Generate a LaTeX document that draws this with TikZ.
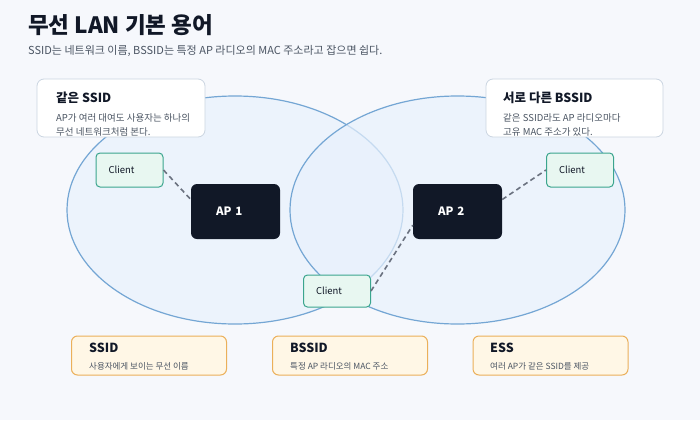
\documentclass[tikz,border=0pt]{standalone}
\usepackage{fontspec}
\setmainfont{Noto Sans CJK KR}
\usepackage{tikz}
\definecolor{bgc}{HTML}{F6F8FC}
\definecolor{ink}{HTML}{111827}
\definecolor{subink}{HTML}{4B5563}
\definecolor{setfill}{HTML}{E8F1FC}
\definecolor{setline}{HTML}{74A6D4}
\definecolor{cardline}{HTML}{CBD5E1}
\definecolor{clifill}{HTML}{E8F7F1}
\definecolor{cliline}{HTML}{3BA58E}
\definecolor{termfill}{HTML}{FFF7E6}
\definecolor{termline}{HTML}{EBB05A}
\definecolor{linkc}{HTML}{6B7280}

\begin{document}
\begin{tikzpicture}[x=1pt,y=1pt,yscale=-1,xscale=1,
  card/.style={draw=cardline,fill=white,line width=0.8pt,rounded corners=7pt},
  client/.style={draw=cliline,fill=clifill,line width=1pt,rounded corners=4pt,minimum width=67pt,minimum height=34pt,inner xsep=12.5pt,text width=42pt,align=left,font=\fontsize{9.5}{11}\selectfont,text=ink},
  apbox/.style={fill=ink,rounded corners=6pt,minimum width=89pt,minimum height=55pt,inner xsep=25pt,text width=39pt,align=left,font=\fontsize{11.5}{13}\selectfont\bfseries,text=white},
  term/.style={draw=termline,fill=termfill,line width=1pt,rounded corners=6pt,minimum width=155pt,minimum height=39pt},
  head/.style={anchor=west,inner sep=0pt,font=\fontsize{12.5}{14}\selectfont\bfseries,text=ink},
  body/.style={anchor=west,inner sep=0pt,align=left,font=\fontsize{9.5}{14}\selectfont,text=subink},
  small/.style={anchor=west,inner sep=0pt,font=\fontsize{8.5}{10}\selectfont,text=subink},
  link/.style={draw=linkc,line width=1.6pt,dash pattern=on 5pt off 3.5pt}]
%배경
\fill [bgc](0,0) rectangle (700,420);
\useasboundingbox (0,0) rectangle (700,420);
%제목
\node [anchor=west,inner sep=0pt,font=\fontsize{22.5}{26}\selectfont\bfseries,text=ink] (title) at (28,25) {무선 LAN 기본 용어};
\node [anchor=west,inner sep=0pt,font=\fontsize{11}{13}\selectfont,text=subink] (subtitle) at (28,51) {SSID는 네트워크 이름, BSSID는 특정 AP 라디오의 MAC 주소라고 잡으면 쉽다.};
%두 AP의 영역
\draw [setline,fill=setfill,fill opacity=0.7,line width=1.2pt](235,210) ellipse (168 and 114);
\draw [setline,fill=setfill,fill opacity=0.7,line width=1.2pt](457.5,210) ellipse (167.5 and 114);
%설명 카드
\node [card,minimum width=168pt,minimum height=58pt] (same) at (121,108) {};
\node [head] (sameT) at (56,98) {같은 SSID};
\node [body] (sameD) at (56,125) {AP가 여러 대여도 사용자는 하나의\\무선 네트워크처럼 본다.};
\node [card,minimum width=177pt,minimum height=58pt] (diff) at (574.5,108) {};
\node [head] (diffT) at (503,98) {서로 다른 BSSID};
\node [body] (diffD) at (503,125) {같은 SSID라도 AP 라디오마다\\고유 MAC 주소가 있다.};
%AP와 단말
\node [apbox] (ap1) at (235.5,211.5) {AP 1};
\node [apbox] (ap2) at (457.5,211.5) {AP 2};
\node [client] (c1) at (129.5,170) {Client};
\node [client] (c2) at (580,170) {Client};
\node [client,minimum height=32pt] (c3) at (337,291) {Client};
\draw [link](c1.east) -- (ap1.165);
\draw [link](ap2.15) -- (c2.west);
\draw [link](c3.east) -- (ap2.197);
%용어
\node [term] (ssid) at (149,355.5) {};
\node [head] (ssidT) at (89,348) {SSID};
\node [small] (ssidD) at (89,366) {사용자에게 보이는 무선 이름};
\node [term] (bssid) at (350,355.5) {};
\node [head] (bssidT) at (290,348) {BSSID};
\node [small] (bssidD) at (290,366) {특정 AP 라디오의 MAC 주소};
\node [term] (ess) at (550.5,355.5) {};
\node [head] (essT) at (490,348) {ESS};
\node [small] (essD) at (490,366) {여러 AP가 같은 SSID를 제공};
\end{tikzpicture}
\end{document}
